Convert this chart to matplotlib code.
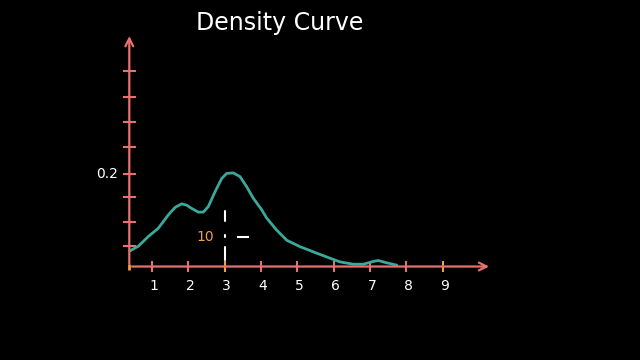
import numpy as np
import matplotlib.pyplot as plt

# === data ===
curve_x = [0.392, 0.620, 0.895, 1.170, 1.446, 1.630, 1.814, 1.952, 2.089, 2.271,
           2.409, 2.546, 2.731, 2.915, 3.053, 3.234, 3.419, 3.603, 3.785, 4.016,
           4.153, 4.428, 4.704, 5.070, 5.529, 5.895, 6.170, 6.536, 6.812, 7.087,
           7.224, 7.455, 7.731]
curve_y = [0.034, 0.044, 0.065, 0.083, 0.112, 0.128, 0.136, 0.133, 0.126, 0.118,
           0.118, 0.130, 0.162, 0.191, 0.202, 0.203, 0.195, 0.173, 0.148, 0.123,
           0.105, 0.079, 0.057, 0.043, 0.029, 0.018, 0.010, 0.005, 0.005, 0.011,
           0.013, 0.008, 0.003]
x_ticks = [1, 2, 3, 4, 5, 6, 7, 8, 9]
x_labels = ["1", "2", "3", "4", "5", "6", "7", "8", "9"]
orange_ticks = [3, 9]
y_ticks = [0.045, 0.097, 0.151, 0.2, 0.260, 0.314, 0.368, 0.425]
y_label_val = 0.2
x0, x_end, y_end = 0.372, 10.35, 0.506
mark_x = 3
mark_text = "10"
# hand-drawn dashes of the marker line (y ranges)
mark_dashes = [(0.098, 0.120), (0.064, 0.068), (0.014, 0.042)]

AXIS_C = "#e8706e"
CURVE_C = "#3aa89a"
ORANGE = "#f0a040"

fig = plt.figure(figsize=(6.4, 3.6), dpi=100, facecolor="black")
ax = fig.add_axes([0, 0, 1, 1])
ax.set_facecolor("black")
ax.set_xlim(-3.186, 14.426)
ax.set_ylim(-0.2028, 0.5781)
ax.axis("off")

# axes with arrows
ax.annotate("", xy=(x_end, 0), xytext=(x0, 0),
            arrowprops=dict(arrowstyle="->", color=AXIS_C, lw=1.6, mutation_scale=14))
ax.annotate("", xy=(x0, y_end), xytext=(x0, 0),
            arrowprops=dict(arrowstyle="->", color=AXIS_C, lw=1.6, mutation_scale=14))

# ticks
for t in x_ticks:
    c = ORANGE if t in orange_ticks else AXIS_C
    ax.plot([t, t], [-0.01, 0.01], color=c, lw=1.5)
ax.plot([x0], [0], marker="|", color=ORANGE, ms=5, mew=2)
for t in y_ticks:
    ax.plot([x0 - 0.15, x0 + 0.15], [t, t], color=AXIS_C, lw=1.5)

for t, lab in zip(x_ticks, x_labels):
    ax.text(t + 0.05, -0.042, lab, color="white", fontsize=10, ha="center", va="center")
ax.text(x0 - 0.3, y_label_val, "0.2", color="white", fontsize=10, ha="right", va="center")

# density curve
ax.plot(curve_x, curve_y, color=CURVE_C, lw=2, solid_capstyle="round", solid_joinstyle="round")

# dashed marker at x = 3
for lo, hi in mark_dashes:
    ax.plot([mark_x, mark_x], [lo, hi], color="white", lw=1.5, solid_capstyle="round")
ax.plot([mark_x + 0.37, mark_x + 0.65], [0.065, 0.065], color="white", lw=1.5)
ax.text(mark_x - 0.3, 0.064, mark_text, color=ORANGE, fontsize=10, ha="right", va="center")

fig.text(0.4375, 0.937, "Density Curve", color="white", fontsize=17, ha="center", va="center")

fig.savefig("out.png", dpi=100, facecolor="black")
